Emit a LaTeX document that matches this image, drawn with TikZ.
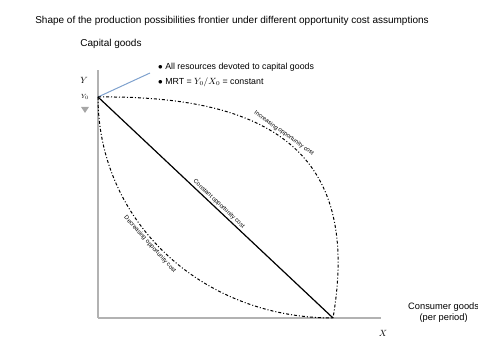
\documentclass[tikz,border=0pt]{standalone}
\usepackage{fontspec}
\setmainfont{Liberation Sans}
\usetikzlibrary{arrows.meta}
\definecolor{leadblue}{RGB}{125,160,205}
\begin{document}
\begin{tikzpicture}[x=1pt,y=1pt,
  axis/.style={draw=gray!60, line width=1.3pt},
  ppf/.style={line width=1pt, dash pattern=on 3pt off 2pt on 1pt off 2pt},
  lbl/.style={font=\fontsize{6}{7}\selectfont, sloped, inner sep=1.5pt},
  txt/.style={font=\fontsize{8.8}{10}\selectfont, inner sep=0pt}]
\useasboundingbox (0,0) rectangle (478,347);
\coordinate (O) at (98,29);
\coordinate (A) at (98,250);
\coordinate (B) at (333,29);
\coordinate (ytop) at (98,277);
\coordinate (xend) at (381,29);
\coordinate (lead) at (150,274);
% axes
\draw[axis] (O) -- (ytop);
\draw[axis] (O) -- (xend);
\node[txt, font=\fontsize{10}{12}\selectfont] (title) at (232,326) {Shape of the production possibilities frontier under different opportunity cost assumptions};
\node[txt, font=\fontsize{10}{12}\selectfont] (ylab) at (111,303) {Capital goods};
\node[txt, align=center, anchor=north west, font=\fontsize{9.3}{10.5}\selectfont] (xlab) at (408,44) {Consumer goods\\(per period)};
\node[txt, font=\fontsize{9}{10}\selectfont\bfseries] (ysym) at (84,267) {$Y$};
\node[txt, font=\fontsize{6.5}{7}\selectfont] (y0) at (85,250) {$Y_0$};
\node[txt] (xsym) at (383,14) {$X$};
\fill[gray!70] (81,240) -- (89,240) -- (85,234) -- cycle;
% note on the intercept
\node[txt, anchor=west] (note1) at (158,280) {$\bullet$ All resources devoted to capital goods};
\node[txt, anchor=west] (note2) at (158,265) {$\bullet$ MRT = $Y_0/X_0$ = constant};
\draw[leadblue, line width=1pt] (A) -- (lead);
% three frontiers
\draw[ppf] (A) .. controls (280,252) and (360,187) .. (B)
  node[lbl, pos=0.45, above] {Increasing opportunity cost};
\draw[line width=1.2pt] (A) -- (B)
  node[lbl, pos=0.5, above] {Constant opportunity cost};
\draw[ppf] (A) .. controls (98,127) and (200,29) .. (B)
  node[lbl, pos=0.45, below] {Decreasing opportunity cost};
\end{tikzpicture}
\end{document}
